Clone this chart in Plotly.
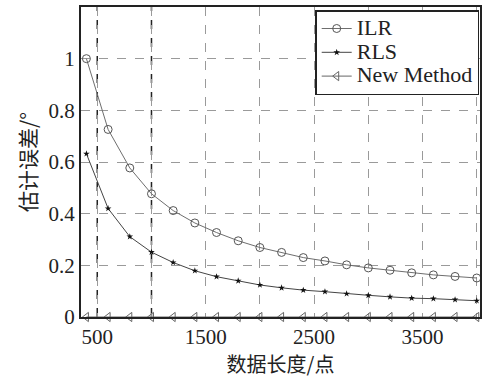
import plotly.graph_objects as go

x_points = [400, 600, 800, 1000, 1200, 1400, 1600, 1800, 2000, 2200, 2400,
            2600, 2800, 3000, 3200, 3400, 3600, 3800, 4000]
ilr = [1.0, 0.726, 0.577, 0.477, 0.412, 0.364, 0.327, 0.295, 0.269, 0.250,
       0.230, 0.217, 0.202, 0.190, 0.181, 0.171, 0.163, 0.157, 0.151]
rls = [0.632, 0.420, 0.311, 0.251, 0.211, 0.179, 0.156, 0.140, 0.124, 0.113,
       0.104, 0.098, 0.090, 0.084, 0.078, 0.073, 0.071, 0.067, 0.063]
new_method = [0.0] * len(x_points)

x_tickvals = [500, 1000, 1500, 2000, 2500, 3000, 3500, 4000]
x_ticktext = ["500", "", "1500", "", "2500", "", "3500", ""]
y_tickvals = [0, 0.2, 0.4, 0.6, 0.8, 1.0]
y_ticktext = ["0", "0.2", "0.4", "0.6", "0.8", "1"]
highlight_x = [500, 1000]

serif = "Liberation Serif"
cjk = "Noto Sans CJK SC"
big = '<span style="font-size:22px">{}</span>'

fig = go.Figure()
fig.add_trace(go.Scatter(
    x=x_points, y=ilr, name=big.format("ILR"), mode="lines+markers",
    line=dict(color="#6e6e6e", width=1),
    marker=dict(symbol="circle-open", size=8, color="#555555", line=dict(width=1)),
))
fig.add_trace(go.Scatter(
    x=x_points, y=rls, name=big.format("RLS"), mode="lines+markers",
    line=dict(color="#444444", width=1),
    marker=dict(symbol="star", size=5, color="#111111"),
))
fig.add_trace(go.Scatter(
    x=x_points, y=new_method, name=big.format("New Method"), mode="lines+markers",
    line=dict(color="#666666", width=1),
    marker=dict(symbol="triangle-left-open", size=8, color="#666666", line=dict(width=1)),
    cliponaxis=False,
))

for xv in highlight_x:
    fig.add_shape(type="line", xref="x", yref="paper", x0=xv, x1=xv, y0=0, y1=1,
                  line=dict(color="#222222", width=1.5, dash="dash"), layer="below")

fig.update_layout(
    width=484, height=378,
    margin=dict(l=81, r=2, t=7, b=61),
    paper_bgcolor="white", plot_bgcolor="white",
    showlegend=True,
    legend=dict(
        x=0.998, y=0.99, xanchor="right", yanchor="top",
        bgcolor="white", bordercolor="#222222", borderwidth=1.5,
        font=dict(family=serif, size=16, color="#222222"),
        tracegroupgap=0, itemwidth=30,
    ),
    xaxis=dict(
        range=[350, 4030], tickvals=x_tickvals, ticktext=x_ticktext,
        showgrid=True, gridcolor="#9a9a9a", griddash="dash", gridwidth=1,
        showline=True, linecolor="#222222", linewidth=2, mirror=True,
        ticks="", zeroline=False,
        tickfont=dict(family=serif, size=21, color="#222222"),
        title=dict(text="数据长度/点", font=dict(family=cjk, size=20, color="#222222"), standoff=2),
    ),
    yaxis=dict(
        range=[0, 1.2], tickvals=y_tickvals, ticktext=y_ticktext,
        showgrid=True, gridcolor="#9a9a9a", griddash="dash", gridwidth=1,
        showline=True, linecolor="#222222", linewidth=2, mirror=True,
        ticks="", zeroline=False,
        tickfont=dict(family=serif, size=21, color="#222222"),
        title=dict(text="估计误差/°", font=dict(family=cjk, size=21, color="#222222"), standoff=6),
    ),
)

fig.write_html("out.html")
